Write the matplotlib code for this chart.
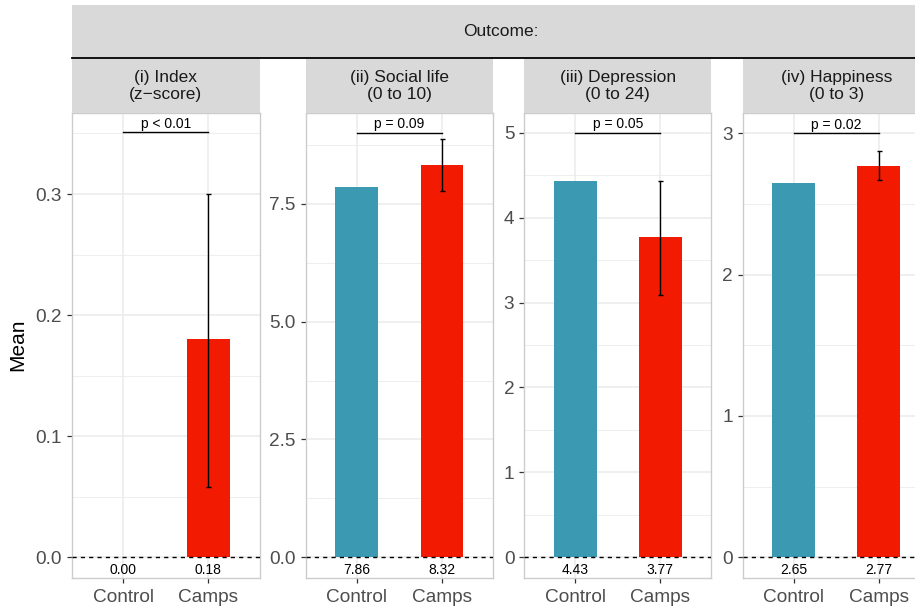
import matplotlib
matplotlib.use("Agg")
import matplotlib.pyplot as plt
from matplotlib.ticker import MultipleLocator

plt.rcParams['font.family'] = ['Liberation Sans', 'DejaVu Sans']

# ---- data ----
groups = ["Control", "Camps"]
panel_titles = ["(i) Index\n(z\u2212score)", "(ii) Social life\n(0 to 10)",
                "(iii) Depression\n(0 to 24)", "(iv) Happiness\n(0 to 3)"]
control_means = [0.00, 7.86, 4.43, 2.65]
camps_means = [0.18, 8.32, 3.77, 2.77]
camps_ci_low = [0.058, 7.78, 3.09, 2.668]
camps_ci_high = [0.300, 8.87, 4.43, 2.873]
p_labels = ["p < 0.01", "p = 0.09", "p = 0.05", "p = 0.02"]
bracket_y = [0.351, 9.01, 5.0, 3.0]
y_limits = [(-0.0171, 0.3669), (-0.44, 9.43), (-0.244, 5.233), (-0.146, 3.142)]
major_steps = [0.1, 2.5, 1.0, 1.0]
outer_title = "Outcome:"
y_title = "Mean"

colors = ["#3B9AB2", "#F21A00"]

W, H = 915, 611
fig = plt.figure(figsize=(W / 100, H / 100), dpi=100)

panel_left = [72, 305.5, 524.3, 742.7]
panel_width = [187.5, 187.5, 187.0, 187.0]
top_px, bot_px = 113, 578
strip_top = 59

def fx(px):
    return px / W

def fy(py):
    return 1 - py / H

tick_color = "#4D4D4D"
for i in range(4):
    ax = fig.add_axes([fx(panel_left[i]), fy(bot_px), panel_width[i] / W, (bot_px - top_px) / H])
    means = [control_means[i], camps_means[i]]
    xs = list(range(len(groups)))
    ax.bar(xs, means, width=0.5, color=colors, zorder=2)
    ax.errorbar([1], [camps_means[i]],
                yerr=[[camps_means[i] - camps_ci_low[i]], [camps_ci_high[i] - camps_means[i]]],
                fmt='none', ecolor='black', elinewidth=1.0, capsize=1.8, capthick=1.0, zorder=3)
    ax.axhline(0, color='black', lw=1.0, ls=(0, (3, 3)), zorder=3)
    ax.plot([0, 1], [bracket_y[i], bracket_y[i]], color='black', lw=1.0, zorder=3)
    ax.annotate(p_labels[i], xy=(0.5, bracket_y[i]), xytext=(0, 1.5), textcoords='offset pixels',
                ha='center', va='bottom', fontsize=10, color='black')
    for x, m in zip(xs, means):
        ax.annotate(f"{m:.2f}", xy=(x, 0), xytext=(0, -12.5), textcoords='offset pixels',
                    ha='center', va='center', fontsize=10, color='black')
    ax.set_xlim(-0.6, 1.6)
    ax.set_ylim(*y_limits[i])
    ax.set_xticks(xs)
    ax.set_xticklabels(groups)
    ax.yaxis.set_major_locator(MultipleLocator(major_steps[i]))
    ax.yaxis.set_minor_locator(MultipleLocator(major_steps[i] / 2))
    if i in (0, 1):
        ax.yaxis.set_major_formatter(matplotlib.ticker.FormatStrFormatter('%.1f'))
    else:
        ax.yaxis.set_major_formatter(matplotlib.ticker.FormatStrFormatter('%d'))
    ax.grid(True, which='major', color='#EBEBEB', lw=1.1, zorder=0)
    ax.grid(True, which='minor', axis='y', color='#EBEBEB', lw=0.6, zorder=0)
    ax.set_axisbelow(True)
    ax.tick_params(axis='both', which='major', length=3.6, width=0.9, color='#333333',
                   labelcolor=tick_color, labelsize=13.7, pad=3.5)
    ax.tick_params(axis='x', which='major', pad=4.5)
    ax.tick_params(axis='y', which='minor', length=0)
    for s in ax.spines.values():
        s.set_color('#CCCCCC')
        s.set_linewidth(1.0)
    # panel strip
    sax = fig.add_axes([fx(panel_left[i]), fy(top_px), panel_width[i] / W, (top_px - strip_top) / H])
    sax.set_facecolor('#D9D9D9')
    sax.set_xticks([]); sax.set_yticks([])
    for s in sax.spines.values():
        s.set_visible(False)
    sax.text(0.5, 0.5, panel_titles[i], ha='center', va='center', fontsize=12.5,
             color='#1A1A1A', linespacing=1.2, transform=sax.transAxes)

# outer strip
oax = fig.add_axes([fx(72), fy(58), (929.7 - 72) / W, 53 / H])
oax.set_facecolor('#D9D9D9')
oax.set_xticks([]); oax.set_yticks([])
for k, s in oax.spines.items():
    s.set_visible(k == 'bottom')
oax.spines['bottom'].set_color('black')
oax.spines['bottom'].set_linewidth(1.3)
oax.text(0.5, 0.5, outer_title, ha='center', va='center', fontsize=12.5,
         color='#1A1A1A', transform=oax.transAxes)

fig.text(fx(18), fy(345), y_title, rotation=90, ha='center', va='center', fontsize=15, color='black')

fig.savefig("out.png", dpi=100)
